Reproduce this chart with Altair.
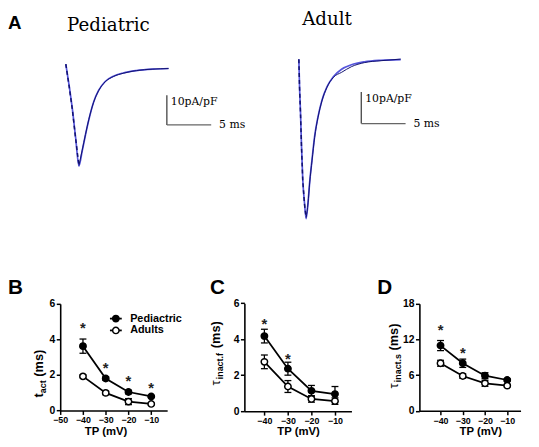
import altair as alt
import pandas as pd

W, H = 531, 439
SANS = "Liberation Sans"
SERIF = "DejaVu Serif"

# ---------------- Panel A: representative Na+ current traces (ms, pA/pF) ----------------
ped_t    = [0.00, 0.37, 0.73, 1.11, 1.48, 1.84, 2.22, 2.59, 3.14, 3.70, 4.44, 5.37, 6.48, 7.96, 9.81, 11.59]
ped_fit  = [0.8, -6.4, -14.2, -24.2, -33.7, -28.7, -23.1, -18.1, -12.0, -8.1, -5.1, -3.3, -2.2, -1.4, -0.9, -0.7]
ped_data = [0.8, -6.6, -14.4, -24.5, -33.5, -28.5, -23.0, -18.0, -12.1, -8.2, -5.2, -3.4, -2.3, -1.4, -0.9, -0.7]
ped_peak = 4

adu_t    = [0.00, 0.08, 0.19, 0.30, 0.44, 0.63, 0.82, 1.04, 1.22, 1.49, 1.78, 2.16, 2.60, 3.16, 3.89, 4.82, 5.93, 7.41, 9.27, 11.49]
adu_fit  = [0.25, -8.6, -16.9, -27.3, -37.8, -45.1, -50.3, -45.1, -38.8, -31.5, -24.2, -18.0, -12.8, -8.6, -5.3, -2.9, -1.5, -0.56, -0.06, 0.16]
adu_data = [0.25, -8.8, -17.2, -27.6, -38.2, -45.5, -50.0, -45.3, -39.0, -31.8, -24.5, -18.2, -13.0, -8.7, -5.5, -3.9, -2.1, -0.8, -0.2, 0.3]
adu_peak = 6

# scale bars: 10 pA/pF and 5 ms
bar_i_len, bar_t_len = 10, 5
ped_bar = (11.4, -9.77)
adu_bar = (7.04, -10.16)

# ---------------- Panels B-D: kinetics vs test potential ----------------
tp = [-40, -30, -20, -10]
series = ["Pediactric", "Adults"]
series_fill = ["black", "white"]

b_ped, b_ped_err = [3.62, 1.80, 1.04, 0.79], [0.40, 0.10, 0.10, 0.05]
b_adu, b_adu_err = [1.92, 0.99, 0.50, 0.37], [0.08, 0.10, 0.17, 0.06]
b_star_tp, b_star_y = [-40, -30, -20, -10], [4.87, 2.58, 1.85, 1.48]

c_ped, c_ped_err = [4.17, 2.36, 1.13, 0.95], [0.38, 0.36, 0.30, 0.42]
c_adu, c_adu_err = [2.74, 1.37, 0.68, 0.56], [0.38, 0.33, 0.18, 0.18]
c_star_tp, c_star_y = [-40, -30], [5.05, 3.14]

d_ped, d_ped_err = [10.97, 7.99, 5.90, 5.17], [0.85, 0.70, 0.50, 0.20]
d_adu, d_adu_err = [7.99, 5.85, 4.61, 4.22], [0.50, 0.40, 0.50, 0.20]
d_star_tp, d_star_y = [-40, -30], [14.2, 10.4]


def trace(t, fit, data, peak, xr, yr, ydom, bar, fit_color):
    xs = alt.Scale(domain=[0, 20], range=xr, nice=False, zero=False)
    ys = alt.Scale(domain=ydom, range=yr, nice=False, zero=False)
    X = alt.X("t:Q", scale=xs, axis=None)
    Y = alt.Y("i:Q", scale=ys, axis=None)
    dfit = pd.DataFrame({"t": t, "i": fit})
    dfall = pd.DataFrame({"t": t[: peak + 1], "i": data[: peak + 1]})
    drise = pd.DataFrame({"t": t[peak:], "i": data[peak:]})
    dbar = pd.DataFrame({"t": [bar[0]], "t2": [bar[0] + bar_t_len],
                         "i": [bar[1]], "i2": [bar[1] - bar_i_len]})
    fit_l = alt.Chart(dfit).mark_line(color=fit_color, strokeWidth=1.7, interpolate="monotone").encode(x=X, y=Y)
    rise_l = alt.Chart(drise).mark_line(color="#10106e", strokeWidth=1.0, interpolate="monotone").encode(x=X, y=Y)
    fall_l = alt.Chart(dfall).mark_line(color="#10106e", strokeWidth=1.5, strokeDash=[4, 3]).encode(x=X, y=Y)
    vbar = alt.Chart(dbar).mark_rule(color="#333333", strokeWidth=1.2).encode(x=X, y=Y, y2="i2:Q")
    hbar = alt.Chart(dbar).mark_rule(color="#666666", strokeWidth=1.2).encode(
        x=X, x2="t2:Q", y=alt.Y("i2:Q", scale=ys, axis=None))
    lab1 = alt.Chart(dbar).mark_text(text="10pA/pF", font=SERIF, fontSize=11, align="left",
                                     baseline="middle", dx=4, dy=7, color="black").encode(x=X, y=Y)
    lab2 = alt.Chart(dbar).mark_text(text="5 ms", font=SERIF, fontSize=11, align="left",
                                     baseline="middle", dx=8, color="black").encode(
        x=alt.X("t2:Q", scale=xs, axis=None), y=alt.Y("i2:Q", scale=ys, axis=None))
    return alt.layer(fit_l, rise_l, fall_l, vbar, hbar, lab1, lab2)


def panel(ped, ped_err, adu, adu_err, star_tp, star_y, xdom, xr, ydom, yr, xticks, yticks):
    xs = alt.Scale(domain=xdom, range=xr, nice=False, zero=False)
    ys = alt.Scale(domain=ydom, range=yr, nice=False, zero=False)
    xax = alt.Axis(values=xticks, orient="bottom", offset=yr[0] - H, title=None, grid=False,
                   labelFlush=False, labelFontSize=9, labelPadding=1.5)
    yax = alt.Axis(values=yticks, orient="left", offset=-xr[0], title=None, grid=False,
                   labelFontSize=10.5, labelPadding=1.5)
    df = pd.DataFrame({"tp": tp * 2, "series": [series[0]] * 4 + [series[1]] * 4,
                       "m": ped + adu, "e": ped_err + adu_err})
    df["lo"] = df["m"] - df["e"]
    df["hi"] = df["m"] + df["e"]
    X = alt.X("tp:Q", scale=xs, axis=xax)
    line = alt.Chart(df).mark_line(color="black", strokeWidth=1.8).encode(
        x=X, y=alt.Y("m:Q", scale=ys, axis=yax), detail="series:N")
    err = alt.Chart(df).mark_rule(color="black", strokeWidth=1.3).encode(
        x=X, y=alt.Y("lo:Q", scale=ys, axis=yax), y2="hi:Q")
    cap_lo = alt.Chart(df).mark_tick(orient="horizontal", color="black", size=7, thickness=1.3, opacity=1).encode(
        x=X, y=alt.Y("lo:Q", scale=ys, axis=yax))
    cap_hi = alt.Chart(df).mark_tick(orient="horizontal", color="black", size=7, thickness=1.3, opacity=1).encode(
        x=X, y=alt.Y("hi:Q", scale=ys, axis=yax))
    pts = alt.Chart(df).mark_point(filled=True, size=42, stroke="black",
                                   strokeWidth=1.5, opacity=1).encode(
        x=X, y=alt.Y("m:Q", scale=ys, axis=yax),
        fill=alt.Fill("series:N", scale=alt.Scale(domain=series, range=series_fill), legend=None))
    dstar = pd.DataFrame({"tp": star_tp, "s": star_y})
    stars = alt.Chart(dstar).mark_text(text="*", font=SANS, fontSize=15, fontWeight="bold",
                                       baseline="middle", dy=4, color="#222222").encode(
        x=X, y=alt.Y("s:Q", scale=ys, axis=yax))
    return alt.layer(line, err, cap_lo, cap_hi, pts, stars)


ONE = pd.DataFrame({"k": [0]})


def txt(s, x, y, size, font=SANS, weight="normal", angle=0, align="left", baseline="alphabetic"):
    return alt.Chart(ONE).mark_text(text=s, font=font, fontSize=size, fontWeight=weight, angle=angle,
                                    align=align, baseline=baseline, color="black").encode(
        x=alt.value(x), y=alt.value(y))


def legend_entry(label, fill, y):
    seg = alt.Chart(ONE).mark_rule(color="black", strokeWidth=1.8).encode(
        x=alt.value(103.5), x2=alt.value(115.5), y=alt.value(y))
    dot = alt.Chart(ONE).mark_point(filled=True, size=42, fill=fill, stroke="black",
                                    strokeWidth=1.5, opacity=1).encode(x=alt.value(109.5), y=alt.value(y))
    lab = txt(label, 124, y, 11, weight="bold", baseline="middle")
    return [seg, dot, lab]


ped_tr = trace(ped_t, ped_fit, ped_data, ped_peak, [58.7, 238.7], [176, 41], [-40, 5], ped_bar, "#5656dc")
adu_tr = trace(adu_t, adu_fit, adu_data, adu_peak, [295.3, 475.3], [241.5, 33.5], [-60, 5], adu_bar, "#5656dc")

pB = panel(b_ped, b_ped_err, b_adu, b_adu_err, b_star_tp, b_star_y, [-50, -3], [53, 161.6],
           [0, 6], [405.3, 297], [-50, -40, -30, -20, -10], [0, 2, 4, 6])
pC = panel(c_ped, c_ped_err, c_adu, c_adu_err, c_star_tp, c_star_y, [-48.5, -3], [240, 348.7],
           [0, 6], [406, 296.3], [-40, -30, -20, -10], [0, 2, 4, 6])
pD = panel(d_ped, d_ped_err, d_adu, d_adu_err, d_star_tp, d_star_y, [-49.5, -4], [417.7, 520.4],
           [0, 18], [405.5, 297], [-40, -30, -20, -10], [0, 6, 12, 18])

texts = [
    txt("A", 0, 18, 19, weight="bold"),
    txt("B", 0, 287, 21, weight="bold"),
    txt("C", 205, 287, 21, weight="bold"),
    txt("D", 375, 287, 21, weight="bold"),
    txt("Pediatric", 60, 19.5, 18.5, font=SERIF),
    txt("Adult", 298.7, 13.5, 18.5, font=SERIF),
    # x titles
    txt("TP (mV)", 99.5, 427.5, 11.5, weight="bold", align="center", baseline="middle"),
    txt("TP (mV)", 295, 427.5, 11.5, weight="bold", align="center", baseline="middle"),
    txt("TP (mV)", 480, 427.5, 11.5, weight="bold", align="center", baseline="middle"),
    # y title B: t_act (ms)
    txt("t", 35.5, 392, 13, weight="bold", angle=270),
    txt("act", 38.5, 387.7, 9, weight="bold", angle=270),
    txt("(ms)", 35.5, 371, 13, weight="bold", angle=270),
    # y title C: tau_inact.f (ms)
    txt("\u03c4", 215, 380, 13, angle=270),
    txt("inact.f", 218, 373.5, 9, weight="bold", angle=270),
    txt("(ms)", 215, 342, 13, weight="bold", angle=270),
    # y title D: tau_inact.s (ms)
    txt("\u03c4", 396, 383, 13, angle=270),
    txt("inact.s", 399, 376.5, 9, weight="bold", angle=270),
    txt("(ms)", 396, 344.5, 13, weight="bold", angle=270),
]
legend_layers = legend_entry(series[0], series_fill[0], 312) + legend_entry(series[1], series_fill[1], 324)

chart = alt.layer(ped_tr, adu_tr, pB, pC, pD, *texts, *legend_layers).resolve_scale(
    x="independent", y="independent"
).properties(
    width=W, height=H, autosize=alt.AutoSizeParams(type="none"), padding=0, background="white"
).configure_view(stroke=None).configure_axis(
    domainColor="black", domainWidth=1.6, tickColor="black", tickWidth=1.5, tickSize=4,
    labelFont=SANS, labelFontWeight="bold", labelColor="black", grid=False
)

chart.save("out.html", embed_options={"renderer": "svg", "actions": False})
